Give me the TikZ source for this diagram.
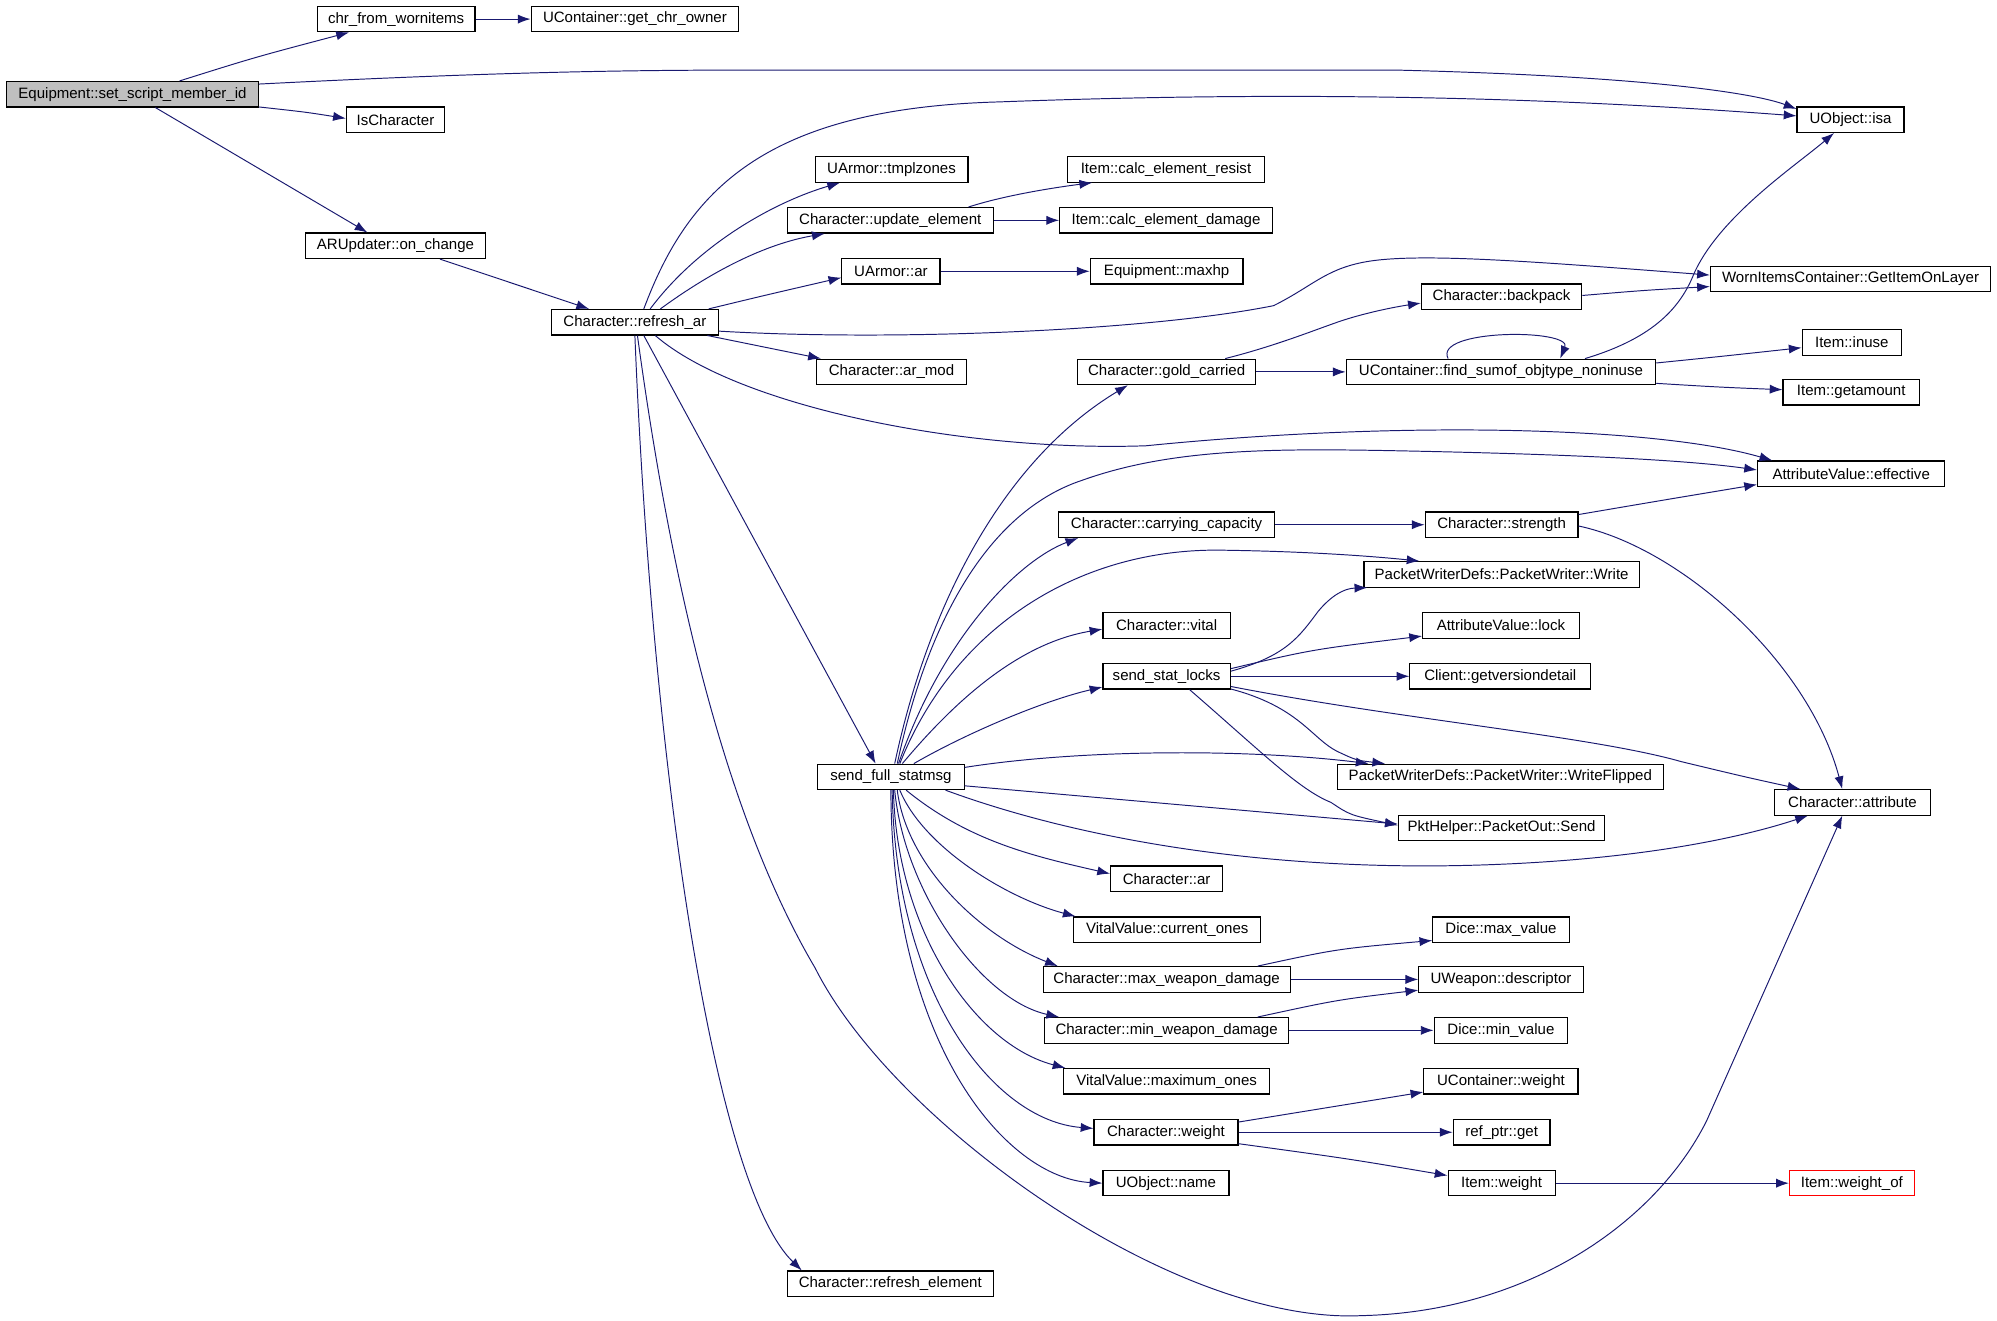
\documentclass[tikz,border=0pt]{standalone}
\usepackage{fontspec}
\setmainfont{Liberation Sans}
\usetikzlibrary{arrows.meta,calc}
\definecolor{midblue}{RGB}{25,25,112}
\definecolor{rootgray}{RGB}{191,191,191}
\begin{document}
\begin{tikzpicture}[x=0.5pt,y=-0.5pt,
  box/.style={draw=black, line width=0.45pt, minimum height=10pt, inner sep=0pt, anchor=center, font=\fontsize{5.9}{7}\selectfont},
  arr/.style={draw=midblue, line width=0.38pt, -{Latex[length=5pt,width=3.6pt]}}]
\useasboundingbox (0,0) rectangle (1568,1037);
\fill[white] (0,0) rectangle (1568,1037);
% nodes
\node[box, fill=rootgray, minimum width=99pt] (eq) at (104,74) {Equipment::set\_script\_member\_id};
\node[box, minimum width=62pt] (chr) at (311,15) {chr\_from\_wornitems};
\node[box, minimum width=81.5pt] (gco) at (498.5,15) {UContainer::get\_chr\_owner};
\node[box, minimum width=38.5pt] (isch) at (310.5,94) {IsCharacter};
\node[box, minimum width=70.5pt] (aru) at (310.5,193) {ARUpdater::on\_change};
\node[box, minimum width=65.5pt] (rar) at (498.5,253) {Character::refresh\_ar};
\node[box, minimum width=60pt] (tmpl) at (700,133) {UArmor::tmplzones};
\node[box, minimum width=81pt] (upd) at (699,173) {Character::update\_element};
\node[box, minimum width=38.5pt] (uar) at (699.5,213) {UArmor::ar};
\node[box, minimum width=59pt] (armod) at (700,292) {Character::ar\_mod};
\node[box, minimum width=77.5pt] (cer) at (915.5,133) {Item::calc\_element\_resist};
\node[box, minimum width=83.5pt] (ced) at (915.5,173) {Item::calc\_element\_damage};
\node[box, minimum width=60pt] (maxhp) at (916,213) {Equipment::maxhp};
\node[box, minimum width=42pt] (isa) at (1453,94) {UObject::isa};
\node[box, minimum width=110pt] (worn) at (1453,219) {WornItemsContainer::GetItemOnLayer};
\node[box, minimum width=63pt] (bp) at (1179,233) {Character::backpack};
\node[box, minimum width=70pt] (gold) at (916,292) {Character::gold\_carried};
\node[box, minimum width=121.5pt] (fso) at (1178.5,292) {UContainer::find\_sumof\_objtype\_noninuse};
\node[box, minimum width=39pt] (inuse) at (1454,269) {Item::inuse};
\node[box, minimum width=53.5pt] (getam) at (1453.5,308) {Item::getamount};
\node[box, minimum width=73.5pt] (eff) at (1453.5,372) {AttributeValue::effective};
\node[box, minimum width=85pt] (cc) at (916,412) {Character::carrying\_capacity};
\node[box, minimum width=60pt] (str) at (1179,412) {Character::strength};
\node[box, minimum width=108pt] (wr) at (1179,451) {PacketWriterDefs::PacketWriter::Write};
\node[box, minimum width=50pt] (vital) at (916,491) {Character::vital};
\node[box, minimum width=61.5pt] (lock) at (1178.5,491) {AttributeValue::lock};
\node[box, minimum width=50pt] (ssl) at (916,531) {send\_stat\_locks};
\node[box, minimum width=71pt] (gvd) at (1178,531) {Client::getversiondetail};
\node[box, minimum width=57.5pt] (sfs) at (699.5,610) {send\_full\_statmsg};
\node[box, minimum width=128pt] (wf) at (1178,610) {PacketWriterDefs::PacketWriter::WriteFlipped};
\node[box, minimum width=61.5pt] (attr) at (1454.5,630) {Character::attribute};
\node[box, minimum width=81pt] (send) at (1179,650) {PktHelper::PacketOut::Send};
\node[box, minimum width=44pt] (car) at (916,690) {Character::ar};
\node[box, minimum width=73.5pt] (cur) at (916.5,730) {VitalValue::current\_ones};
\node[box, minimum width=53.5pt] (dmax) at (1178.5,730) {Dice::max\_value};
\node[box, minimum width=97pt] (mxw) at (916,769) {Character::max\_weapon\_damage};
\node[box, minimum width=64.5pt] (desc) at (1178.5,769) {UWeapon::descriptor};
\node[box, minimum width=96pt] (mnw) at (916,809) {Character::min\_weapon\_damage};
\node[box, minimum width=52.5pt] (dmin) at (1178.5,809) {Dice::min\_value};
\node[box, minimum width=81pt] (mxo) at (916,849) {VitalValue::maximum\_ones};
\node[box, minimum width=60.5pt] (ucw) at (1178.5,849) {UContainer::weight};
\node[box, minimum width=56.5pt] (cw) at (915.5,889) {Character::weight};
\node[box, minimum width=38pt] (rpg) at (1179,889) {ref\_ptr::get};
\node[box, minimum width=49.5pt] (oname) at (915.5,929) {UObject::name};
\node[box, minimum width=42pt] (iw) at (1179,929) {Item::weight};
\node[box, draw=red, minimum width=49pt] (wof) at (1454,929) {Item::weight\_of};
\node[box, minimum width=81pt] (rel) at (699,1008) {Character::refresh\_element};
% edges
\draw[arr] ($(eq.north)+(37,0)$) .. controls (200,45) .. ($(chr.south)+(-37,0)$);
\draw[arr] (chr.east) -- (gco.west);
\draw[arr] ($(eq.east)+(0,-8)$) .. controls (400,56) and (500,55) .. (600,55) -- (1095,55) .. controls (1300,60) and (1380,74) .. ($(isa.north west)+(0,2)$);
\draw[arr] ($(eq.east)+(0,10)$) .. controls (240,88) .. ($(isch.west)+(0,-1)$);
\draw[arr] ($(eq.south)+(18,0)$) -- ($(aru.north)+(-22,0)$);
\draw[arr] ($(aru.south)+(35,0)$) -- ($(rar.north)+(-36,0)$);
\draw[arr] ($(rar.north)+(7,0)$) .. controls (540,150) and (600,85) .. (785,80) .. controls (1000,72) and (1200,75) .. ($(isa.west)+(0,-3)$);
\draw[arr] ($(rar.north)+(12,0)$) .. controls (550,190) and (610,158) .. ($(tmpl.south west)+(20,0)$);
\draw[arr] ($(rar.north)+(20,0)$) .. controls (570,205) and (610,190) .. ($(upd.south west)+(30,0)$);
\draw[arr] ($(rar.north east)+(-8,0)$) .. controls (600,232) .. ($(uar.west)+(0,5)$);
\draw[arr] ($(rar.east)+(0,7)$) .. controls (700,268) and (900,260) .. (1000,240) .. controls (1030,225) and (1040,212) .. (1070,206) .. controls (1110,198) and (1200,205) .. ($(worn.west)+(0,-3)$);
\draw[arr] ($(rar.south east)+(-9,0)$) -- ($(armod.north west)+(4,0)$);
\draw[arr] ($(rar.south)+(16,0)$) .. controls (580,320) and (760,355) .. (900,350) .. controls (1100,330) and (1300,335) .. ($(eff.north west)+(12,0)$);
\draw[arr] ($(rar.south)+(7,0)$) -- ($(sfs.north)+(-12,0)$);
\draw[arr] ($(rar.south)+(2,0)$) .. controls (530,480) and (575,650) .. (640,760) .. controls (700,880) and (920,1040) .. (1069,1033) .. controls (1200,1030) and (1300,960) .. (1340,880) .. controls (1380,790) and (1420,700) .. ($(attr.south)+(-8,0)$);
\draw[arr] (rar.south) .. controls (512,600) and (560,930) .. ($(rel.north west)+(12,0)$);
% send_full_statmsg upward
\draw[arr] ($(sfs.north)+(3,0)$) .. controls (730,470) and (790,360) .. ($(gold.south west)+(40,0)$);
\draw[arr] ($(sfs.north)+(5,0)$) .. controls (730,480) and (780,400) .. (850,377) .. controls (920,352) and (1000,352) .. (1100,354) .. controls (1250,357) and (1330,362) .. ($(eff.west)+(0,-3)$);
\draw[arr] ($(sfs.north)+(6,0)$) .. controls (740,500) and (800,440) .. ($(cc.south west)+(16,0)$);
\draw[arr] ($(sfs.north)+(7,0)$) .. controls (750,490) and (850,430) .. (960,432) .. controls (1030,433) and (1080,437) .. ($(wr.north west)+(44,0)$);
\draw[arr] ($(sfs.north)+(9,0)$) .. controls (750,550) and (800,505) .. ($(vital.west)+(0,3)$);
\draw[arr] ($(sfs.north)+(18,0)$) .. controls (760,575) and (820,550) .. ($(ssl.south west)+(0,-2)$);
\draw[arr] ($(sfs.north east)+(0,3)$) .. controls (850,588) and (980,588) .. ($(wf.north west)+(25,0)$);
\draw[arr] ($(sfs.east)+(0,7)$) -- ($(send.west)+(0,-3)$);
\draw[arr] ($(sfs.south east)+(-15,0)$) .. controls (850,660) and (1000,685) .. (1168,679) .. controls (1280,675) and (1360,660) .. ($(attr.south west)+(27,0)$);
% send_full_statmsg downward
\draw[arr] ($(sfs.south)+(12,0)$) .. controls (760,660) and (810,672) .. ($(car.west)+(0,-4)$);
\draw[arr] ($(sfs.south)+(7,0)$) .. controls (725,665) and (790,705) .. ($(cur.north west)+(2,0)$);
\draw[arr] ($(sfs.south)+(5,0)$) .. controls (712,680) and (770,735) .. ($(mxw.north west)+(12,0)$);
\draw[arr] ($(sfs.south)+(3,0)$) .. controls (710,700) and (770,785) .. ($(mnw.north west)+(12,0)$);
\draw[arr] ($(sfs.south)+(2,0)$) .. controls (704,730) and (765,820) .. ($(mxo.north west)+(2,0)$);
\draw[arr] ($(sfs.south)+(1,0)$) .. controls (703,780) and (780,880) .. ($(cw.west)+(0,-3)$);
\draw[arr] (sfs.south) .. controls (700,820) and (790,925) .. (oname.west);
% others
\draw[arr] ($(upd.north east)+(-20,0)$) .. controls (790,153) and (830,147) .. ($(cer.south west)+(20,0)$);
\draw[arr] (upd.east) -- (ced.west);
\draw[arr] (uar.east) -- (maxhp.west);
\draw[arr] ($(gold.north)+(46,0)$) .. controls (1000,272) and (1030,260) .. (1050,253) .. controls (1070,246) and (1095,241) .. ($(bp.west)+(0,5)$);
\draw[arr] (gold.east) -- (fso.west);
\draw[arr] ($(fso.north)+(-41.5,0)$) .. controls (1125,258) and (1235,258) .. ($(fso.north)+(46.5,0)$);
\draw[arr] ($(fso.north)+(66,0)$) .. controls (1300,265) and (1320,240) .. (1330,215) .. controls (1350,170) and (1410,130) .. ($(isa.south)+(-13,0)$);
\draw[arr] ($(fso.east)+(0,-7)$) .. controls (1350,280) .. ($(inuse.west)+(0,4)$);
\draw[arr] ($(fso.east)+(0,9)$) .. controls (1350,304) .. ($(getam.west)+(0,-2)$);
\draw[arr] ($(bp.east)+(0,-1)$) .. controls (1290,228) .. ($(worn.west)+(0,6)$);
\draw[arr] (cc.east) -- (str.west);
\draw[arr] ($(str.east)+(0,-8)$) .. controls (1310,392) .. ($(eff.south west)+(0,-2)$);
\draw[arr] ($(str.east)+(0,1)$) .. controls (1320,430) and (1420,520) .. ($(attr.north)+(-8,0)$);
\draw[arr] ($(ssl.east)+(0,-4)$) .. controls (1010,515) and (1020,500) .. (1035,480) .. controls (1045,468) and (1055,462) .. ($(wr.south west)+(3,0)$);
\draw[arr] ($(ssl.east)+(0,-6)$) .. controls (1030,510) .. ($(lock.south west)+(0,-2)$);
\draw[arr] (ssl.east) -- (gvd.west);
\draw[arr] ($(ssl.east)+(0,8)$) .. controls (1100,565) and (1250,578) .. (1320,598) .. controls (1370,610) .. ($(attr.north west)+(21,0)$);
\draw[arr] ($(ssl.east)+(0,10)$) .. controls (1020,555) and (1030,580) .. (1050,590) .. controls (1065,597) .. ($(wf.north west)+(38,0)$);
\draw[arr] ($(ssl.south)+(18,0)$) .. controls (990,590) and (1020,620) .. (1045,630) .. controls (1060,640) .. ($(send.west)+(0,-2)$);
\draw[arr] ($(mxw.north east)+(-26,0)$) .. controls (1050,745) .. ($(dmax.south west)+(0,-2)$);
\draw[arr] (mxw.east) -- (desc.west);
\draw[arr] ($(mnw.north east)+(-25,0)$) .. controls (1050,785) .. ($(desc.south west)+(0,-2)$);
\draw[arr] (mnw.east) -- (dmin.west);
\draw[arr] ($(cw.east)+(0,-8)$) .. controls (1040,870) .. ($(ucw.south west)+(0,-2)$);
\draw[arr] (cw.east) -- (rpg.west);
\draw[arr] ($(cw.east)+(0,9)$) .. controls (1060,910) .. ($(iw.west)+(0,-6)$);
\draw[arr] (iw.east) -- (wof.west);
\end{tikzpicture}
\end{document}
